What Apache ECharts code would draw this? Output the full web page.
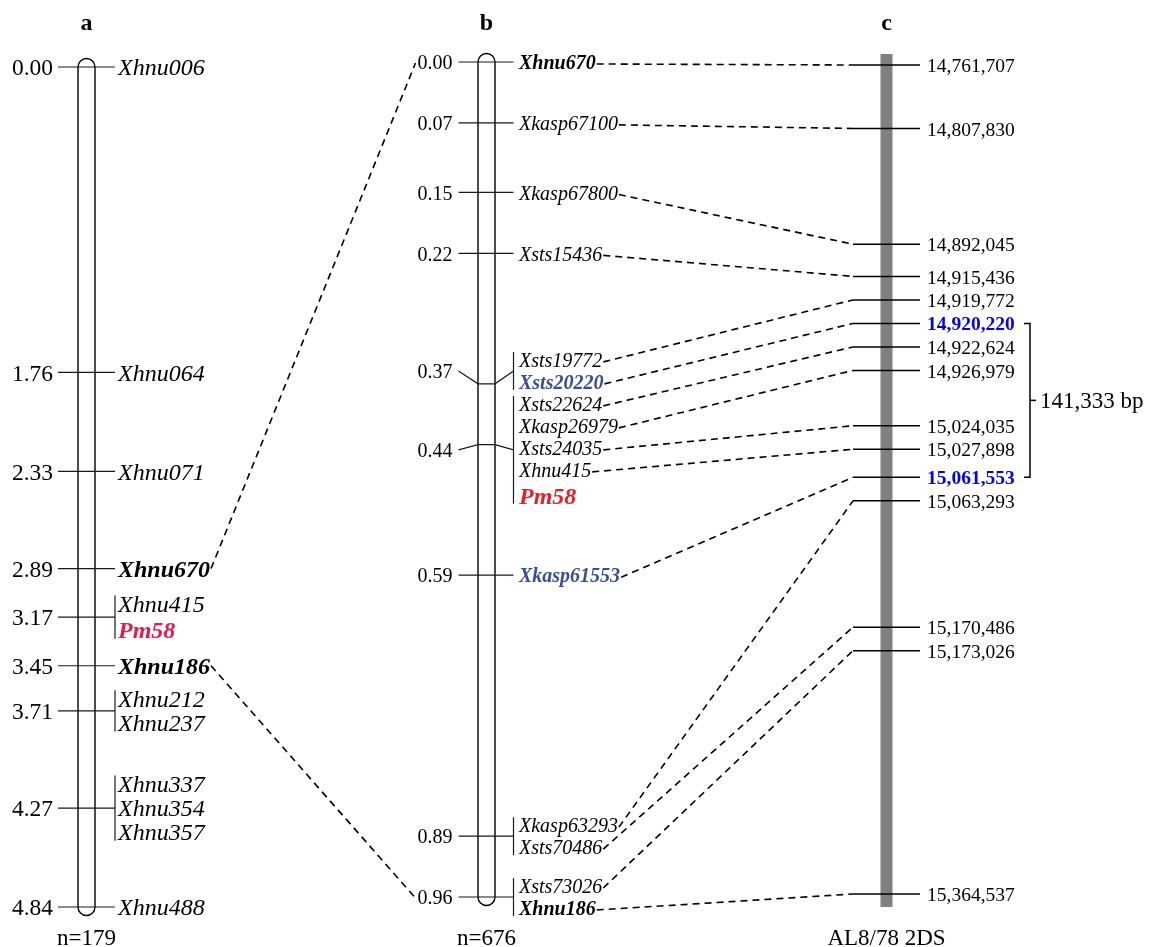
<!DOCTYPE html>
<html>
<head>
<meta charset="utf-8">
<script src="https://cdn.jsdelivr.net/npm/echarts/dist/echarts.min.js"></script>
<style>
html,body{margin:0;padding:0;background:#fff;}
#main{width:1151px;height:947px;}
</style>
</head>
<body>
<div id="main"></div>
<script>
// ---------------- DATA ----------------
const mapTitles = ['a', 'b', 'c'];
const mapFooters = ['n=179', 'n=676', 'AL8/78 2DS'];

// map a: genetic positions (cM) and markers at each position
const mapA_cM = [0.00, 1.76, 2.33, 2.89, 3.17, 3.45, 3.71, 4.27, 4.84];
const mapA_markers = [
  ['Xhnu006'], ['Xhnu064'], ['Xhnu071'], ['Xhnu670'], ['Xhnu415', 'Pm58'],
  ['Xhnu186'], ['Xhnu212', 'Xhnu237'], ['Xhnu337', 'Xhnu354', 'Xhnu357'], ['Xhnu488']
];

// map b: fine map
const mapB_cM = [0.00, 0.07, 0.15, 0.22, 0.37, 0.44, 0.59, 0.89, 0.96];
const mapB_markers = [
  ['Xhnu670'], ['Xkasp67100'], ['Xkasp67800'], ['Xsts15436'], ['Xsts19772', 'Xsts20220'],
  ['Xsts22624', 'Xkasp26979', 'Xsts24035', 'Xhnu415', 'Pm58'], ['Xkasp61553'],
  ['Xkasp63293', 'Xsts70486'], ['Xsts73026', 'Xhnu186']
];

// c: physical positions (bp) on AL8/78 2DS and the marker anchored at each
const phys_bp = [14761707, 14807830, 14892045, 14915436, 14919772, 14920220, 14922624,
  14926979, 15024035, 15027898, 15061553, 15063293, 15170486, 15173026, 15364537];
const phys_markers = ['Xhnu670', 'Xkasp67100', 'Xkasp67800', 'Xsts15436', 'Xsts19772', 'Xsts20220',
  'Xsts22624', 'Xkasp26979', 'Xsts24035', 'Xhnu415', 'Xkasp61553', 'Xkasp63293', 'Xsts70486',
  'Xsts73026', 'Xhnu186'];

const boldMarkers = ['Xhnu670', 'Xhnu186'];      // flanking markers shared by a and b
const blueMarkers = ['Xsts20220', 'Xkasp61553'];
const geneName = 'Pm58';
const intervalBounds = [14920220, 15061553];

// ---------------- LAYOUT / STYLE ----------------
const W = 1151, H = 947;
const FAMILY = '"Liberation Serif","Times New Roman",Times,serif';
const COL_X = [86.5, 486.5, 886.5];           // pixel centres of the three columns
const Y_ANCHORS = [[67, 907], [62, 897], [65, 894]]; // pixel rows of first/last value
const C_GAP = 23.5;
const TY = 2;                                  // text baseline nudge
const STY = [
  { size: 24, labSize: 23.5, lh: 24, geneSize: 24, geneLh: 28, geneColor: '#e8194b', tickL: 28.5, tickR: 28.5, labGap: 33.5, nameGap: 31.5, rodHW: 8.5 },
  { size: 20, labSize: 20, lh: 22, geneSize: 24, geneLh: 30, geneColor: '#ee1c25', tickL: 28, tickR: 27, labGap: 34, nameGap: 32.5, rodHW: 8.5 }
];
const DASH = { stroke: '#000', lineWidth: 1.6, lineDash: [7, 5] };

function fontStr(style, weight, size) { return style + ' ' + weight + ' ' + size + 'px ' + FAMILY; }
const measureCtx = document.createElement('canvas').getContext('2d');
function textW(t, font) { measureCtx.font = font; return measureCtx.measureText(t).width; }

function nameStyle(m, name) {
  const s = STY[m];
  if (name === geneName) return { font: fontStr('italic', 'bold', s.geneSize), fill: s.geneColor, h: s.geneLh };
  if (blueMarkers.includes(name)) return { font: fontStr('italic', 'bold', s.size), fill: '#3a4b9f', h: s.lh };
  if (boldMarkers.includes(name)) return { font: fontStr('italic', 'bold', s.size), fill: '#000', h: s.lh };
  return { font: fontStr('italic', 'normal', s.size), fill: '#000', h: s.lh };
}

// label de-overlap: groups kept as stacks, overlapping stacks merged and centred
function layoutGroups(ys, groups, hOf) {
  const clusters = [];
  ys.forEach((y, g) => {
    const names = groups[g];
    const hs = names.map(hOf);
    const offs = [0];
    for (let i = 1; i < names.length; i++) offs.push(offs[i - 1] + (hs[i - 1] + hs[i]) / 2);
    const mid = offs[offs.length - 1] / 2;
    const items = names.map((n, i) => ({ g, i, h: hs[i], d: y + offs[i] - mid }));
    clusters.push({ items, offs: offs.slice(), top: y - mid });
    while (clusters.length > 1) {
      const b = clusters[clusters.length - 1], a = clusters[clusters.length - 2];
      const gap = (a.items[a.items.length - 1].h + b.items[0].h) / 2;
      const aEnd = a.top + a.offs[a.offs.length - 1];
      if (aEnd + gap > b.top + 1e-6) {
        const base = a.offs[a.offs.length - 1] + gap;
        b.items.forEach((it, k) => { a.items.push(it); a.offs.push(base + b.offs[k]); });
        let s = 0; a.items.forEach((it, k) => { s += it.d - a.offs[k]; });
        a.top = s / a.items.length;
        clusters.pop();
      } else break;
    }
  });
  const out = groups.map(n => new Array(n.length));
  clusters.forEach(c => c.items.forEach((it, k) => { out[it.g][it.i] = c.top + c.offs[k]; }));
  return out;
}
function layoutDown(ys, gap) {
  const out = [];
  ys.forEach((y, i) => { out.push(i === 0 ? y : Math.max(y, out[i - 1] + gap)); });
  return out;
}
function findIn(groups, name) {
  for (let g = 0; g < groups.length; g++) { const i = groups[g].indexOf(name); if (i >= 0) return [g, i]; }
  return [-1, -1];
}

// axis extents so that anchors land on the wanted rows
function yExtent(vals, anchor) {
  const v0 = vals[0], v1 = vals[vals.length - 1];
  const k = (anchor[1] - anchor[0]) / (v1 - v0);
  return { min: v0 - anchor[0] / k, max: v0 + (H - anchor[0]) / k };
}
const xk = (COL_X[2] - COL_X[0]) / 2;
const xExt = { min: -COL_X[0] / xk, max: (W - COL_X[0]) / xk };
const yExts = [yExtent(mapA_cM, Y_ANCHORS[0]), yExtent(mapB_cM, Y_ANCHORS[1]), yExtent(phys_bp, Y_ANCHORS[2])];

const chart = echarts.init(document.getElementById('main'), null, { renderer: 'canvas', width: W, height: H });

// ---------------- RENDERERS ----------------
function rodRender(m) {
  return function (params, api) {
    const p0 = api.coord([api.value(0), api.value(1)]);
    const p1 = api.coord([api.value(0), api.value(2)]);
    const xc = p0[0], y0 = p0[1], y1 = p1[1];
    const children = [];
    if (m < 2) {
      const r = STY[m].rodHW;
      children.push({ type: 'rect', shape: { x: xc - r, y: y0 - r, width: 2 * r, height: y1 - y0 + 2 * r, r: r },
        style: { fill: 'none', stroke: '#000', lineWidth: 1.4 } });
    } else {
      children.push({ type: 'rect', shape: { x: xc - 6, y: y0 - 11, width: 12, height: y1 - y0 + 24 },
        style: { fill: '#808080' } });
    }
    children.push({ type: 'text', style: { text: mapTitles[m], x: xc, y: 22 + TY, font: fontStr('normal', 'bold', 24),
      fill: '#000', align: 'center', verticalAlign: 'middle' } });
    children.push({ type: 'text', style: { text: mapFooters[m], x: xc, y: H - 10 + TY, font: fontStr('normal', 'normal', 23),
      fill: '#000', align: 'center', verticalAlign: 'middle' } });
    return { type: 'group', children };
  };
}

function mapGroupRender(m) {
  const cm = m === 0 ? mapA_cM : mapB_cM, groups = m === 0 ? mapA_markers : mapB_markers, s = STY[m];
  return function (params, api) {
    const g = api.value(2);
    const p = api.coord([api.value(0), api.value(1)]);
    const xc = p[0], yRod = p[1];
    const ys = cm.map(v => api.coord([m, v])[1]);
    const lay = layoutGroups(ys, groups, n => nameStyle(m, n).h);
    const ny = lay[g];
    const yLab = (ny[0] + ny[ny.length - 1]) / 2;
    const children = [];
    children.push({ type: 'polyline', shape: { points: [[xc - s.tickL, yLab], [xc - s.rodHW, yRod], [xc + s.rodHW, yRod], [xc + s.tickR, yLab]] },
      style: { stroke: '#1a1a1a', lineWidth: 1.2, fill: 'none' } });
    children.push({ type: 'text', style: { text: cm[g].toFixed(2), x: xc - s.labGap, y: yLab + TY, font: fontStr('normal', 'normal', s.labSize),
      fill: '#000', align: 'right', verticalAlign: 'middle' } });
    groups[g].forEach((n, i) => {
      const st = nameStyle(m, n);
      children.push({ type: 'text', style: { text: n, x: xc + s.nameGap, y: ny[i] + TY, font: st.font, fill: st.fill, align: 'left', verticalAlign: 'middle' } });
    });
    if (groups[g].length > 1) {
      children.push({ type: 'line', shape: { x1: xc + s.tickR, y1: ny[0] - 0.36 * s.lh, x2: xc + s.tickR, y2: ny[ny.length - 1] + 0.36 * s.lh },
        style: { stroke: '#1a1a1a', lineWidth: 1.2 } });
    }
    return { type: 'group', children };
  };
}

function physRender(params, api) {
  const k = api.value(2);
  const xc = api.coord([api.value(0), api.value(1)])[0];
  const ys = layoutDown(phys_bp.map(v => api.coord([2, v])[1]), C_GAP);
  const y = ys[k];
  const hl = intervalBounds.includes(phys_bp[k]);
  return { type: 'group', children: [
    { type: 'line', shape: { x1: xc - 33.5, y1: y, x2: xc + 33.5, y2: y }, style: { stroke: '#000', lineWidth: 1.5 } },
    { type: 'text', style: { text: phys_bp[k].toLocaleString('en-US'), x: xc + 40.5, y: y + TY,
      font: fontStr('normal', hl ? 'bold' : 'normal', 19.5), fill: hl ? '#0000ff' : '#000', align: 'left', verticalAlign: 'middle' } }
  ] };
}

function intervalRender(params, api) {
  const xc = api.coord([api.value(0), api.value(1)])[0];
  const ys = layoutDown(phys_bp.map(v => api.coord([2, v])[1]), C_GAP);
  const yA = ys[phys_bp.indexOf(api.value(1))], yB = ys[phys_bp.indexOf(api.value(2))];
  const xb = xc + 143.5, ym = (yA + yB) / 2;
  const span = (api.value(2) - api.value(1)).toLocaleString('en-US') + ' bp';
  return { type: 'group', children: [
    { type: 'polyline', shape: { points: [[xb - 6, yA], [xb, yA], [xb, yB], [xb - 6, yB]] }, style: { stroke: '#000', lineWidth: 1.5, fill: 'none' } },
    { type: 'line', shape: { x1: xb, y1: ym, x2: xb + 6, y2: ym }, style: { stroke: '#000', lineWidth: 1.5 } },
    { type: 'text', style: { text: span, x: xb + 10, y: ym + TY, font: fontStr('normal', 'normal', 23), fill: '#000', align: 'left', verticalAlign: 'middle' } }
  ] };
}

// b names -> c physical positions
function bcRender(params, api) {
  const k = api.value(2), name = phys_markers[k];
  const xb = api.coord([1, api.value(1)])[0];
  const xcC = api.coord([2, api.value(1)])[0];
  const ysB = mapB_cM.map(v => api.coord([1, v])[1]);
  const layB = layoutGroups(ysB, mapB_markers, n => nameStyle(1, n).h);
  const gi = findIn(mapB_markers, name);
  const st = nameStyle(1, name);
  const x1 = xb + STY[1].nameGap + textW(name, st.font) + 1;
  const y1 = layB[gi[0]][gi[1]] + 2;
  const ysC = layoutDown(phys_bp.map(v => chart.convertToPixel({ yAxisIndex: 2 }, v)), C_GAP);
  return { type: 'line', shape: { x1: x1, y1: y1, x2: xcC - 33.5, y2: ysC[k] }, style: DASH };
}

// a flanking markers -> b map positions
function abRender(params, api) {
  const name = boldMarkers[api.value(2)];
  const xa = api.coord([0, api.value(1)])[0];
  const xb = api.coord([1, api.value(1)])[0];
  const ysA = mapA_cM.map(v => api.coord([0, v])[1]);
  const layA = layoutGroups(ysA, mapA_markers, n => nameStyle(0, n).h);
  const ga = findIn(mapA_markers, name);
  const stA = nameStyle(0, name);
  const x1 = xa + STY[0].nameGap + textW(name, stA.font) + 1;
  const y1 = layA[ga[0]][ga[1]];
  const ysB = mapB_cM.map(v => chart.convertToPixel({ yAxisIndex: 1 }, v));
  const layB = layoutGroups(ysB, mapB_markers, n => nameStyle(1, n).h);
  const gb = findIn(mapB_markers, name)[0];
  const nb = layB[gb];
  const yLabB = (nb[0] + nb[nb.length - 1]) / 2;
  const lab = mapB_cM[gb].toFixed(2);
  const x2 = xb - STY[1].labGap - textW(lab, fontStr('normal', 'normal', STY[1].labSize)) - 2;
  return { type: 'line', shape: { x1: x1, y1: y1, x2: x2, y2: yLabB + 1 }, style: DASH };
}

// ---------------- SERIES DATA ----------------
const rodData = [
  [[0, mapA_cM[0], mapA_cM[mapA_cM.length - 1]]],
  [[1, mapB_cM[0], mapB_cM[mapB_cM.length - 1]]],
  [[2, phys_bp[0], phys_bp[phys_bp.length - 1]]]
];
const aGroupData = mapA_cM.map((v, g) => [0, v, g]);
const bGroupData = mapB_cM.map((v, g) => [1, v, g]);
const physData = phys_bp.map((v, k) => [2, v, k]);
const bcData = phys_markers.map((n, k) => [1, mapB_cM[findIn(mapB_markers, n)[0]], k]);
const abData = boldMarkers.map((n, i) => [0, mapA_cM[findIn(mapA_markers, n)[0]], i]);

const yAxes = yExts.map(e => ({ type: 'value', inverse: true, min: e.min, max: e.max, show: false, gridIndex: 0 }));

function custom(name, yIdx, data, render, z) {
  return { type: 'custom', name, xAxisIndex: 0, yAxisIndex: yIdx, data, renderItem: render, z: z, silent: true, clip: false,
    encode: { x: 0, y: 1 } };
}

chart.setOption({
  animation: false,
  backgroundColor: '#ffffff',
  grid: { left: 0, right: 0, top: 0, bottom: 0, containLabel: false },
  xAxis: { type: 'value', min: xExt.min, max: xExt.max, show: false },
  yAxis: yAxes,
  series: [
    custom('rodA', 0, rodData[0], rodRender(0), 1),
    custom('rodB', 1, rodData[1], rodRender(1), 1),
    custom('barC', 2, rodData[2], rodRender(2), 1),
    custom('mapA', 0, aGroupData, mapGroupRender(0), 2),
    custom('mapB', 1, bGroupData, mapGroupRender(1), 2),
    custom('phys', 2, physData, physRender, 2),
    custom('interval', 2, [[2, intervalBounds[0], intervalBounds[1]]], intervalRender, 2),
    custom('linksBC', 1, bcData, bcRender, 3),
    custom('linksAB', 0, abData, abRender, 3)
  ]
});
</script>
</body>
</html>
